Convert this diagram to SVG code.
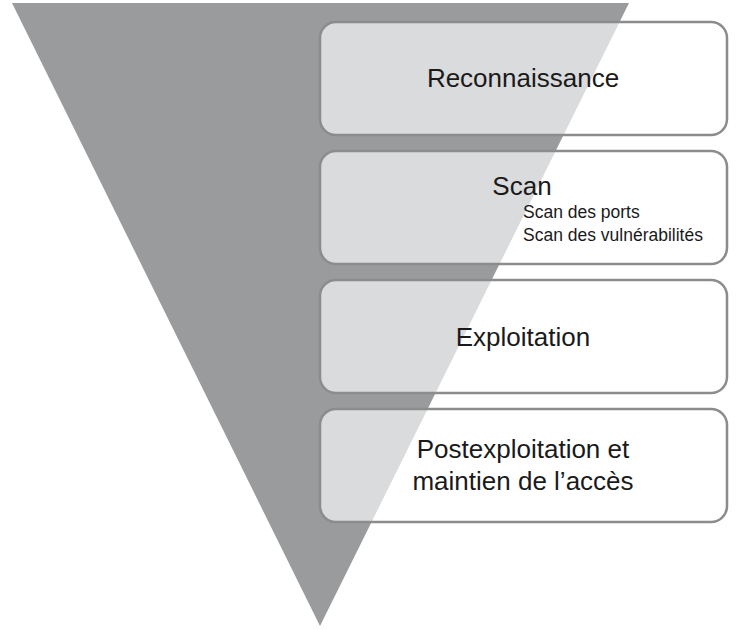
<svg xmlns="http://www.w3.org/2000/svg" width="747" height="630" viewBox="0 0 747 630">
<style>
.box{fill:#ffffff;fill-opacity:0.64;stroke:#8c8c8c;stroke-width:2.5}
.t{font-family:"Liberation Sans",Arial,Helvetica,sans-serif;fill:#1a1a1a;text-anchor:middle;font-size:26px}
.s{font-family:"Liberation Sans",Arial,Helvetica,sans-serif;fill:#1a1a1a;font-size:17.5px}
</style>
<rect width="747" height="630" fill="#ffffff"/>
<polygon id="funnel" points="12,3 629,3 320,626" fill="#9a9b9d"/>
<g id="connectors"></g>
<g id="reconnaissance">
<rect class="box" x="320" y="22" width="407" height="113" rx="16"/>
<text class="t" x="523" y="87">Reconnaissance</text>
</g>
<g id="scan">
<rect class="box" x="320" y="151" width="407" height="113" rx="16"/>
<text class="t" x="522" y="195">Scan</text>
<text class="s" x="523" y="218">Scan des ports</text>
<text class="s" x="523" y="241">Scan des vulnérabilités</text>
</g>
<g id="exploitation">
<rect class="box" x="320" y="280" width="407" height="113" rx="16"/>
<text class="t" x="523" y="346">Exploitation</text>
</g>
<g id="postexploitation">
<rect class="box" x="320" y="409" width="407" height="113" rx="16"/>
<text class="t" x="523" y="458">Postexploitation et</text>
<text class="t" x="523" y="490">maintien de l’accès</text>
</g>
</svg>
